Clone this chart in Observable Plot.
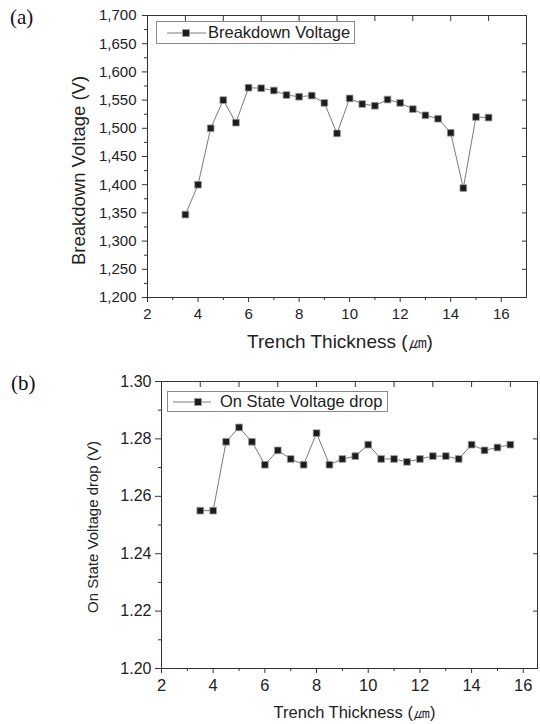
<!DOCTYPE html>
<html><head><meta charset="utf-8">
<script src="https://cdn.jsdelivr.net/npm/d3@7"></script>
<script src="https://cdn.jsdelivr.net/npm/@observablehq/plot@0.6"></script>
<style>
html,body{margin:0;padding:0;background:#fff}
body{width:540px;height:724px;overflow:hidden;font-family:Arial,"Liberation Sans",Helvetica,sans-serif;color:#222}
#wrap{position:relative;width:540px;height:724px}
.panel{position:absolute;left:0}
.tag{position:absolute;font-family:"Liberation Serif","Times New Roman",serif;font-size:21px;color:#111;line-height:1}
.legend{position:absolute;box-sizing:border-box;border:1px solid #8a8a8a;background:#fff;display:flex;align-items:center;white-space:nowrap;color:#222;font-family:Arial,"Liberation Sans",Helvetica,sans-serif}
.legend svg{flex:none}
</style>
</head><body>
<div id="wrap">
  <div class="panel" id="pa" style="top:0"></div>
  <div class="panel" id="pb" style="top:360px"></div>
  <div class="tag" style="left:10px;top:7px">(a)</div>
  <div class="tag" style="left:11px;top:373px">(b)</div>
  <div class="legend" id="lga" style="left:156px;top:21px;width:199px;height:23px;font-size:16.5px"></div>
  <div class="legend" id="lgb" style="left:167px;top:391px;width:221px;height:21px;font-size:16.5px"></div>
</div>
<script>
// ---- data ----
const thickness = [3.5,4,4.5,5,5.5,6,6.5,7,7.5,8,8.5,9,9.5,10,10.5,11,11.5,12,12.5,13,13.5,14,14.5,15,15.5];
const breakdownVoltage = [1347,1400,1500,1550,1510,1572,1571,1567,1559,1556,1558,1545,1491,1553,1543,1540,1551,1545,1534,1523,1517,1492,1394,1520,1519];
const onStateDrop = [1.255,1.255,1.279,1.284,1.279,1.271,1.276,1.273,1.271,1.282,1.271,1.273,1.274,1.278,1.273,1.273,1.272,1.273,1.274,1.274,1.273,1.278,1.276,1.277,1.278];

const xTicks = [2,4,6,8,10,12,14,16];
const xMinorTicks = [3,5,7,9,11,13,15];
const xTopTicks = [3.5,5,6.5,8,9.5,11,12.5,14,15.5];
const aYTicks = [1200,1250,1300,1350,1400,1450,1500,1550,1600,1650,1700];
const aYMinorTicks = [1225,1275,1325,1375,1425,1475,1525,1575,1625,1675];
const bYTicks = [1.20,1.22,1.24,1.26,1.28,1.30];
const bYMinorTicks = [1.21,1.23,1.25,1.27,1.29];

const xTitle = "Trench Thickness (\u339B)";
const aYTitle = "Breakdown Voltage (V)";
const bYTitle = "On State Voltage drop (V)";
const aLegend = "Breakdown Voltage";
const bLegend = "On State Voltage drop";

const dataA = thickness.map((t,i)=>({t, v: breakdownVoltage[i]}));
const dataB = thickness.map((t,i)=>({t, v: onStateDrop[i]}));

const AX = "#333";
const LINE = "#7a7a7a";
const FILL = "#1c1c1c";
const EDGE = "#a0a0a0";
const FONT = "Arial, 'Liberation Sans', Helvetica, sans-serif";

const pa = Plot.plot({
  width:540, height:360,
  marginTop:15, marginBottom:63, marginLeft:147, marginRight:14,
  x:{domain:[2,17]}, y:{domain:[1200,1700]},
  style:{fontFamily:FONT, color:"#222", background:"transparent", overflow:"visible"},
  marks:[
    Plot.frame({stroke:AX, strokeWidth:1}),
    Plot.axisY({ticks:aYTicks, tickFormat:d3.format(","), tickSize:5, tickPadding:6, fontSize:15, stroke:AX, label:null}),
    Plot.axisY({ticks:aYMinorTicks, tickSize:3, text:null, stroke:AX, label:null}),
    Plot.axisY({anchor:"right", ticks:aYTicks.slice(1,-1), tickSize:-5, text:null, stroke:AX, label:null}),
    Plot.axisX({ticks:xTicks, tickSize:5, tickPadding:6, fontSize:15, stroke:AX, label:null}),
    Plot.axisX({ticks:xMinorTicks, tickSize:3, text:null, stroke:AX, label:null}),
    Plot.axisX({anchor:"top", ticks:xTopTicks, tickSize:-5, text:null, stroke:AX, label:null}),
    Plot.line(dataA, {x:"t", y:"v", stroke:LINE, strokeWidth:1}),
    Plot.dot(dataA, {x:"t", y:"v", symbol:"square", r:3.8, fill:FILL, stroke:EDGE, strokeWidth:0.8}),
    Plot.text([aYTitle], {frameAnchor:"left", textAnchor:"middle", lineAnchor:"middle", text:d=>d, rotate:-90, dx:-68, dy:14, fontSize:18.5, fill:"#222"}),
    Plot.text([xTitle], {frameAnchor:"bottom", textAnchor:"middle", lineAnchor:"middle", text:d=>d, dx:3, dy:44.5, fontSize:19, fill:"#222"})
  ]
});
document.getElementById("pa").appendChild(pa);

const pb = Plot.plot({
  width:540, height:364,
  marginTop:21, marginBottom:56, marginLeft:161, marginRight:3,
  x:{domain:[2,16.55]}, y:{domain:[1.20,1.30]},
  style:{fontFamily:FONT, color:"#222", background:"transparent", overflow:"visible"},
  marks:[
    Plot.frame({stroke:AX, strokeWidth:1}),
    Plot.axisY({ticks:bYTicks, tickFormat:d3.format(".2f"), tickSize:6, tickPadding:4, fontSize:16, stroke:AX, label:null}),
    Plot.axisY({ticks:bYMinorTicks, tickSize:3, text:null, stroke:AX, label:null}),
    Plot.axisY({anchor:"right", ticks:bYTicks.slice(1,-1), tickSize:-5, text:null, stroke:AX, label:null}),
    Plot.axisX({ticks:xTicks, tickSize:5, tickPadding:6, fontSize:16.5, stroke:AX, label:null}),
    Plot.axisX({ticks:xMinorTicks, tickSize:3, text:null, stroke:AX, label:null}),
    Plot.axisX({anchor:"top", ticks:xTopTicks, tickSize:-5, text:null, stroke:AX, label:null}),
    Plot.line(dataB, {x:"t", y:"v", stroke:LINE, strokeWidth:1}),
    Plot.dot(dataB, {x:"t", y:"v", symbol:"square", r:3.8, fill:FILL, stroke:EDGE, strokeWidth:0.8}),
    Plot.text([bYTitle], {frameAnchor:"left", textAnchor:"middle", lineAnchor:"middle", text:d=>d, rotate:-90, dx:-68, dy:2, fontSize:15, fill:"#222"}),
    Plot.text([xTitle], {frameAnchor:"bottom", textAnchor:"middle", lineAnchor:"middle", text:d=>d, dx:5, dy:44, fontSize:16.5, fill:"#222"})
  ]
});
document.getElementById("pb").appendChild(pb);

function swatch(w, lineX1, lineX2, sqX){
  const ns="http://www.w3.org/2000/svg";
  const s=document.createElementNS(ns,"svg");
  s.setAttribute("width",w); s.setAttribute("height",12);
  s.innerHTML = `<line x1="${lineX1}" x2="${lineX2}" y1="6" y2="6" stroke="${LINE}" stroke-width="1"/>`+
    `<rect x="${sqX-3.5}" y="2.5" width="7" height="7" fill="${FILL}" stroke="${EDGE}" stroke-width="0.8"/>`;
  return s;
}
const la=document.getElementById("lga");
la.appendChild(swatch(51, 10, 49, 29));
const ta=document.createElement("span"); ta.textContent=aLegend; la.appendChild(ta);
const lb=document.getElementById("lgb");
lb.appendChild(swatch(52, 5, 43, 30));
const tb=document.createElement("span"); tb.textContent=bLegend; lb.appendChild(tb);
</script>
</body></html>
